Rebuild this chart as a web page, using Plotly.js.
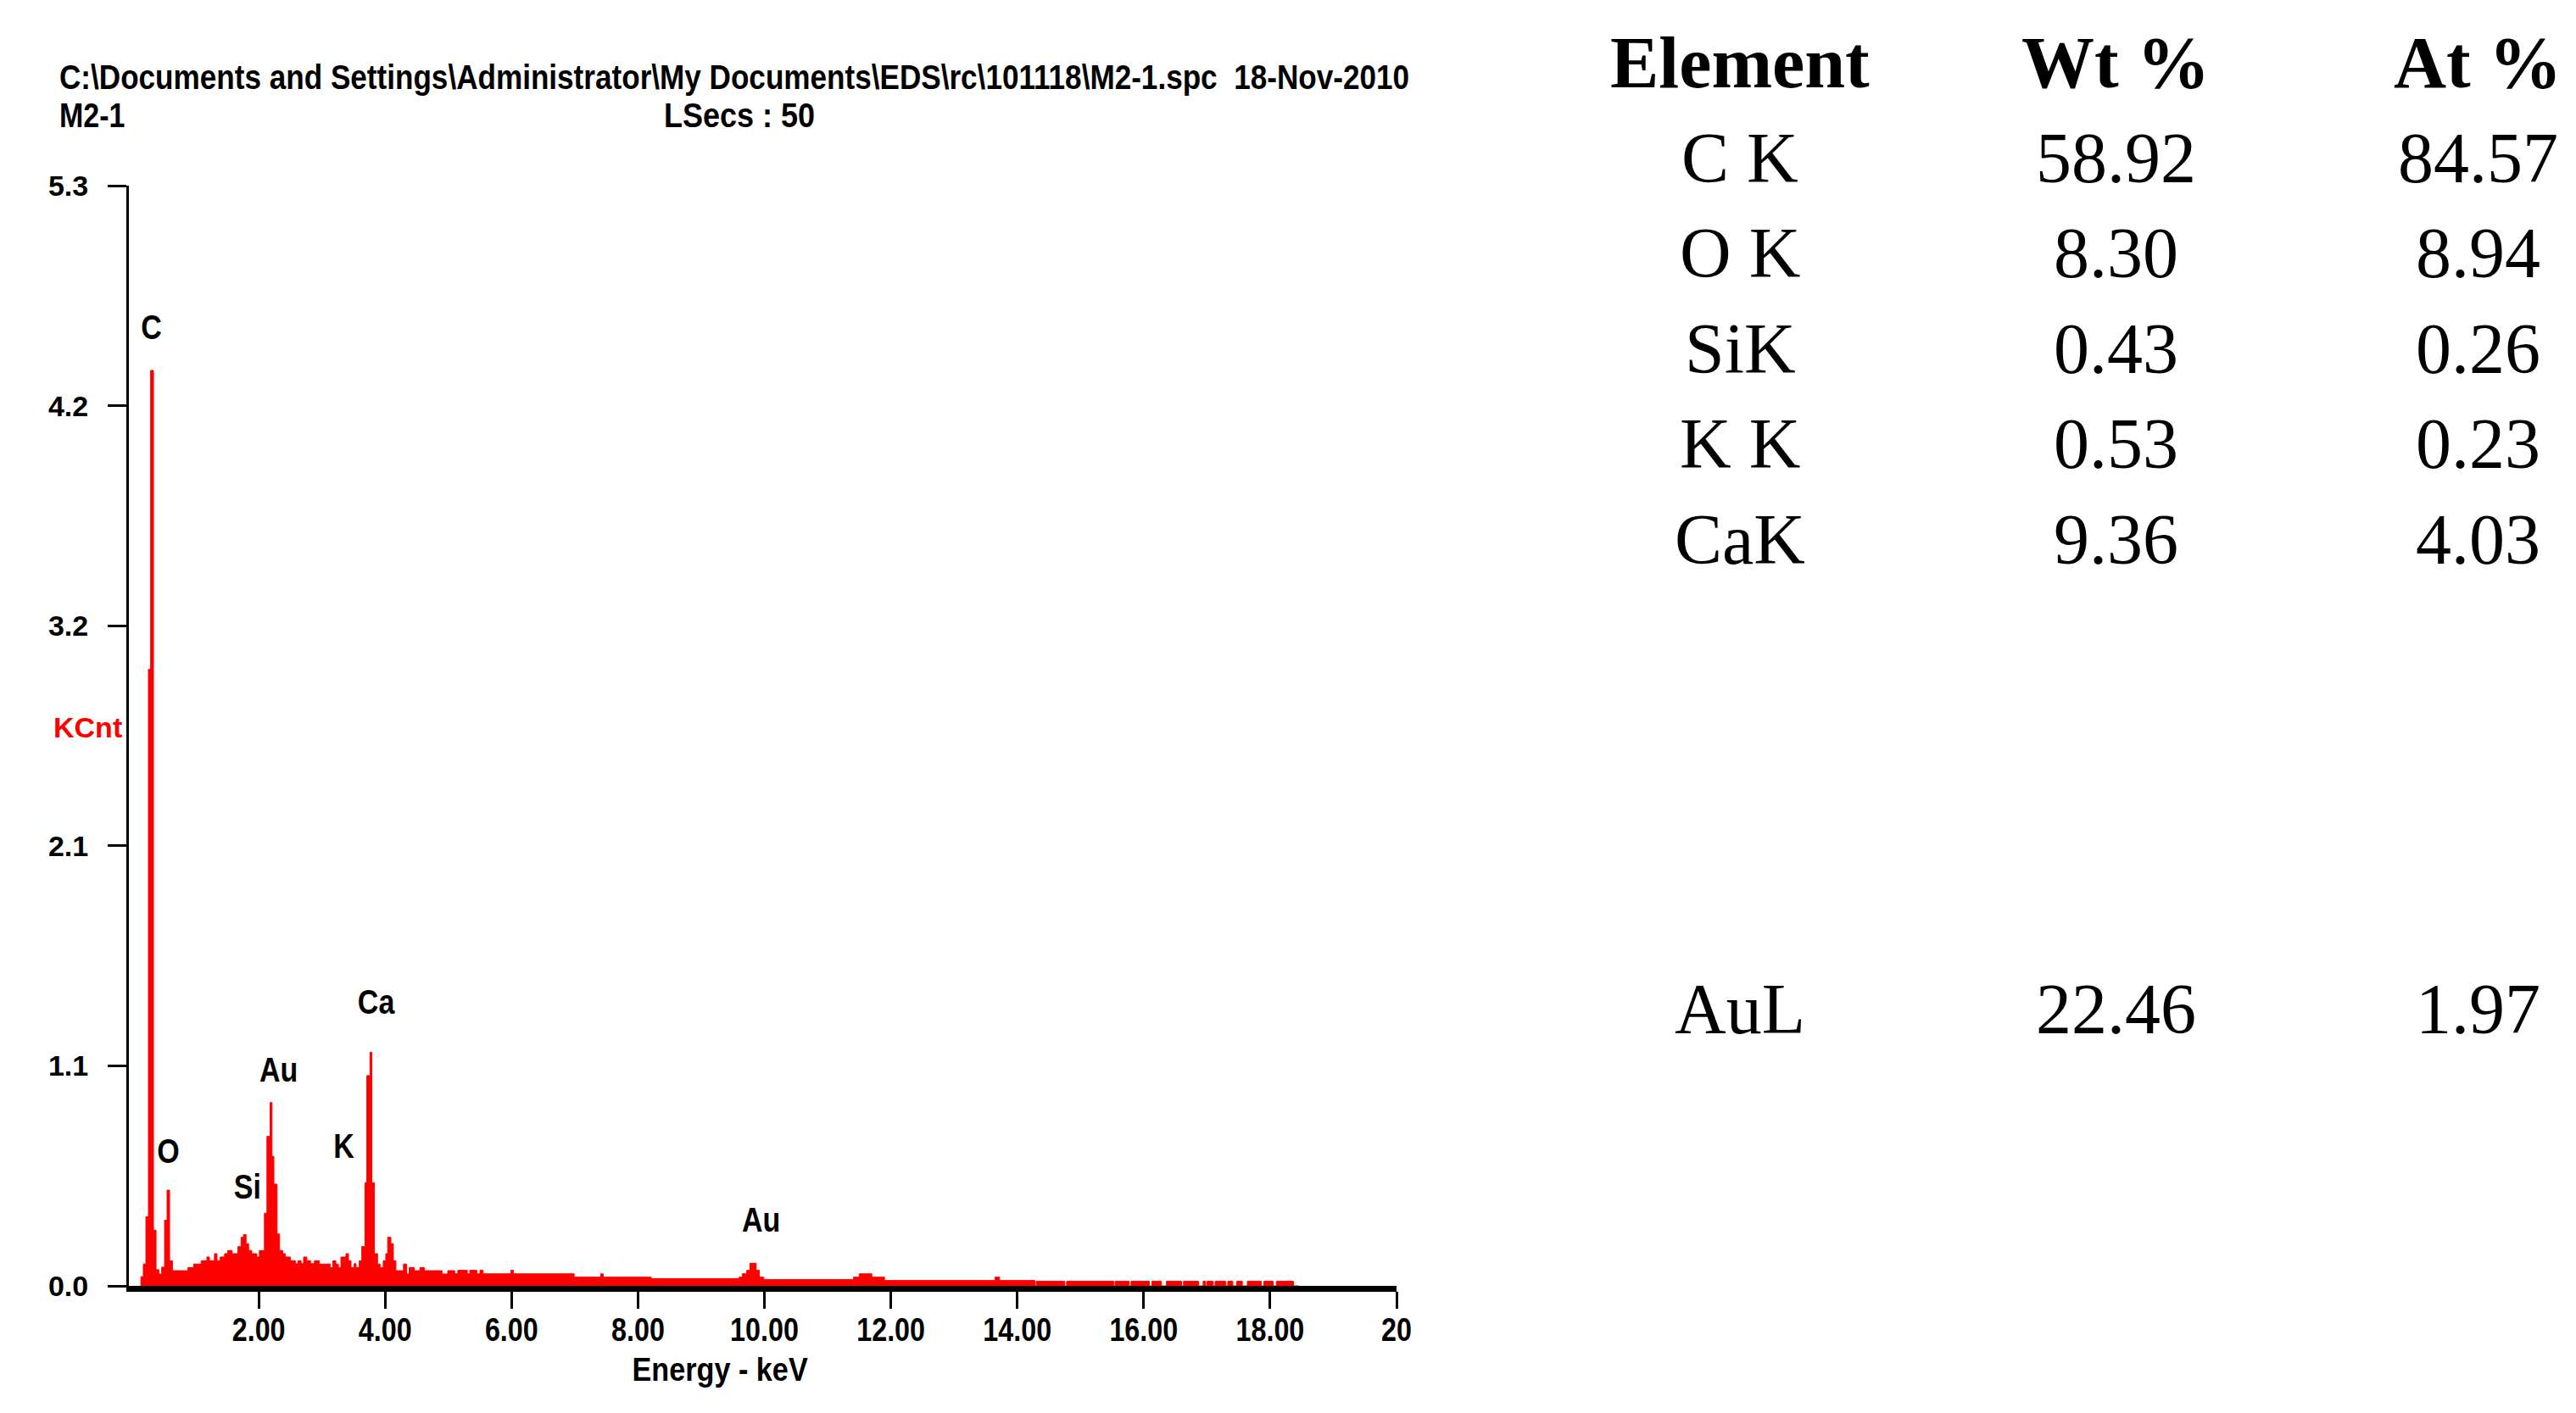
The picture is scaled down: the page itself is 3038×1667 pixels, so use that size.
<!DOCTYPE html>
<html>
<head>
<meta charset="utf-8">
<script src="https://cdn.plot.ly/plotly-3.0.1.min.js"></script>
<style>
  html, body { margin: 0; padding: 0; background: #ffffff; overflow: hidden; }
  #chart { width: 3038px; height: 1667px; }
</style>
</head>
<body>
<div id="chart"></div>
<script>
// ---------------- DATA ----------------
// EDS spectrum: left edge of each step (keV) and counts (KCnt)
const energy = [
  0.13, 0.174, 0.215, 0.255, 0.29, 0.335, 0.376, 0.42, 0.465, 0.51,
  0.55, 0.59, 0.635, 0.88, 0.97, 1.09, 1.18, 1.22, 1.30, 1.34,
  1.39, 1.46, 1.51, 1.58, 1.67, 1.72, 1.76, 1.80, 1.84, 1.89,
  1.97, 2.01, 2.09, 2.13, 2.18, 2.21, 2.24, 2.29, 2.33, 2.38,
  2.42, 2.50, 2.58, 2.62, 2.67, 2.71, 2.76, 2.82, 2.88, 2.96,
  3.13, 3.17, 3.22, 3.26, 3.30, 3.38, 3.42, 3.46, 3.51, 3.54,
  3.59, 3.63, 3.68, 3.71, 3.76, 3.79, 3.83, 3.88, 3.92, 3.97,
  4.01, 4.04, 4.09, 4.13, 4.17, 4.29, 4.34, 4.38, 4.46, 4.55,
  4.62, 4.90, 4.99, 5.10, 5.15, 5.30, 5.34, 5.45, 5.50, 5.55,
  5.99, 6.03, 6.99, 7.41, 7.45, 8.21, 9.60, 9.65, 9.72, 9.77,
  9.87, 9.92, 9.99, 11.41, 11.50, 11.70, 11.90, 13.65, 13.72, 14.28,
  14.30, 14.75, 14.78, 15.53, 15.55, 15.77, 15.80, 16.09, 16.13, 16.28,
  16.36, 16.60, 16.63, 16.87, 16.94, 16.98, 17.00, 17.10, 17.13, 17.30,
  17.33, 17.41, 17.47, 17.56, 17.64, 17.86, 17.90, 18.05, 18.10, 18.37,
  18.45
];
const counts = [
  0.044, 0.105, 0.333, 2.97, 4.41, 0.268, 0.078, 0.057, 0.090, 0.316,
  0.461, 0.121, 0.073, 0.088, 0.105, 0.121, 0.139, 0.121, 0.155, 0.121,
  0.139, 0.155, 0.170, 0.155, 0.189, 0.234, 0.247, 0.203, 0.170, 0.155,
  0.139, 0.170, 0.350, 0.720, 0.883, 0.624, 0.490, 0.250, 0.170, 0.155,
  0.139, 0.121, 0.107, 0.121, 0.107, 0.139, 0.121, 0.107, 0.121, 0.105,
  0.088, 0.121, 0.105, 0.088, 0.139, 0.155, 0.121, 0.088, 0.107, 0.088,
  0.121, 0.189, 0.497, 1.013, 1.125, 0.497, 0.155, 0.105, 0.088, 0.121,
  0.155, 0.234, 0.203, 0.121, 0.073, 0.105, 0.057, 0.088, 0.073, 0.088,
  0.073, 0.057, 0.073, 0.058, 0.075, 0.058, 0.075, 0.058, 0.075, 0.058,
  0.075, 0.058, 0.042, 0.058, 0.042, 0.035, 0.042, 0.058, 0.075, 0.109,
  0.075, 0.042, 0.030, 0.042, 0.058, 0.042, 0.026, 0.042, 0.026, 0.000,
  0.022, 0.000, 0.022, 0.000, 0.022, 0.000, 0.022, 0.000, 0.022, 0.000,
  0.022, 0.000, 0.022, 0.000, 0.022, 0.000, 0.022, 0.000, 0.022, 0.000,
  0.022, 0.000, 0.022, 0.000, 0.022, 0.000, 0.022, 0.000, 0.022, 0.000,
  0.000
];

// Peak labels (element, energy keV, label height KCnt)
const peakNames  = ['C', 'O', 'Si', 'Au', 'K', 'Ca', 'Au'];
const peakEnergy = [0.295, 0.563, 1.82, 2.32, 3.35, 3.86, 9.94];
const peakHeight = [4.62, 0.648, 0.478, 1.04, 0.674, 1.367, 0.318];

// Axis ticks
const xTickVals  = [2, 4, 6, 8, 10, 12, 14, 16, 18, 20];
const xTickText  = ['2.00', '4.00', '6.00', '8.00', '10.00', '12.00', '14.00', '16.00', '18.00', '20'];
const yTickVals  = [0, 1.06, 2.12, 3.18, 4.24, 5.3];
const yTickText  = ['0.0', '1.1', '2.1', '3.2', '4.2', '5.3'];

// Header texts
const headerPath = 'C:\\Documents and Settings\\Administrator\\My Documents\\EDS\\rc\\101118\\M2-1.spc  18-Nov-2010';
const sampleName = 'M2-1';
const liveSecs   = 'LSecs : 50';
const yLabel     = 'KCnt';
const xLabel     = 'Energy - keV';

// Quantification table
const tableHeader = ['Element', 'Wt %', 'At %'];
const elements    = ['C K', 'O K', 'SiK', 'K K', 'CaK', 'AuL'];
const wtPct       = ['58.92', '8.30', '0.43', '0.53', '9.36', '22.46'];
const atPct       = ['84.57', '8.94', '0.26', '0.23', '4.03', '1.97'];

// ---------------- LAYOUT HELPERS ----------------
const W = 3038, H = 1667;
const M = { l: 152, r: 1391, t: 219, b: 150 };
const plotW = W - M.l - M.r, plotH = H - M.t - M.b;
const px = x => (x - M.l) / plotW;          // page pixel -> paper x
const py = y => (H - M.b - y) / plotH;      // page pixel -> paper y

const sans   = "'Liberation Sans', Arial, sans-serif";
const serif  = "'Liberation Serif', 'Times New Roman', serif";

const annotations = [];
const squeeze = [];   // horizontal condensing applied to each annotation's glyphs (1 = none)
function addAnn(a, f) { annotations.push(a); squeeze.push(f); }

// header (condensed bold)
addAnn({ xref: 'paper', yref: 'paper', x: px(68), y: py(91), xanchor: 'left', yanchor: 'middle', align: 'left',
  text: headerPath, showarrow: false, font: { family: sans, size: 40, weight: 'bold', color: '#000' } }, { width: 1592 });
addAnn({ xref: 'paper', yref: 'paper', x: px(68), y: py(136), xanchor: 'left', yanchor: 'middle', align: 'left',
  text: sampleName, showarrow: false, font: { family: sans, size: 40, weight: 'bold', color: '#000' } }, 0.85);
addAnn({ xref: 'paper', yref: 'paper', x: px(781), y: py(136), xanchor: 'left', yanchor: 'middle', align: 'left',
  text: liveSecs, showarrow: false, font: { family: sans, size: 40, weight: 'bold', color: '#000' } }, 0.9);

// axis labels
addAnn({ xref: 'paper', yref: 'paper', x: px(146), y: py(858), xanchor: 'right', yanchor: 'middle', align: 'right',
  text: yLabel, showarrow: false, font: { family: sans, size: 34, weight: 'bold', color: '#ff0000' } }, 1);
addAnn({ xref: 'paper', yref: 'paper', x: px(849), y: py(1616), xanchor: 'center', yanchor: 'middle',
  text: xLabel, showarrow: false, font: { family: sans, size: 38, weight: 'bold', color: '#000' } }, 0.9);

// peak labels
peakNames.forEach((n, i) => {
  addAnn({ xref: 'x', yref: 'y', x: peakEnergy[i], y: peakHeight[i], xanchor: 'center', yanchor: 'middle',
    text: n, showarrow: false, font: { family: sans, size: 40, weight: 'bold', color: '#000' } }, 0.85);
});

// table
const colX = [2052, 2495, 2922];
const headY = 74;
const rowY = [186, 298, 411, 523, 636, 1190];
tableHeader.forEach((t, j) => {
  addAnn({ xref: 'paper', yref: 'paper', x: px(colX[j]), y: py(headY), xanchor: 'center', yanchor: 'middle',
    text: t, showarrow: false, font: { family: serif, size: 86, weight: 'bold', color: '#000' } }, 1);
});
elements.forEach((e, i) => {
  [e, wtPct[i], atPct[i]].forEach((t, j) => {
    addAnn({ xref: 'paper', yref: 'paper', x: px(colX[j]), y: py(rowY[i]), xanchor: 'center', yanchor: 'middle',
      text: t, showarrow: false, font: { family: serif, size: 84, color: '#000' } }, 1);
  });
});

const trace = {
  type: 'scatter', mode: 'lines', x: energy, y: counts,
  line: { shape: 'hv', color: '#ff0000', width: 1 },
  fill: 'tozeroy', fillcolor: '#ff0000', hoverinfo: 'skip'
};

const layout = {
  width: W, height: H, margin: M,
  paper_bgcolor: '#ffffff', plot_bgcolor: '#ffffff', showlegend: false,
  xaxis: {
    range: [-0.054, 20], showgrid: false, zeroline: false,
    showline: true, linewidth: 7, linecolor: '#000',
    ticks: 'outside', ticklen: 20, tickwidth: 3, tickcolor: '#000',
    tickmode: 'array', tickvals: xTickVals, ticktext: xTickText,
    tickfont: { family: sans, size: 38, weight: 'bold', color: '#000' },
    ticklabelstandoff: -8
  },
  yaxis: {
    range: [0, 5.3], showgrid: false, zeroline: false,
    showline: true, linewidth: 3, linecolor: '#000',
    ticks: 'outside', ticklen: 22, tickwidth: 3, tickcolor: '#000',
    tickmode: 'array', tickvals: yTickVals, ticktext: yTickText,
    tickfont: { family: sans, size: 34, weight: 'bold', color: '#000' },
    ticklabelstandoff: 16
  },
  annotations: annotations
};

function condense(textEl, f) {
  const w = textEl.getComputedTextLength();
  if (!w) return;
  const target = (typeof f === 'object') ? f.width : w * f;
  textEl.setAttribute('textLength', target);
  textEl.setAttribute('lengthAdjust', 'spacingAndGlyphs');
}

Plotly.newPlot('chart', [trace], layout, { displayModeBar: false, staticPlot: true }).then(gd => {
  gd.querySelectorAll('g.annotation').forEach(g => {
    const i = +g.getAttribute('data-index');
    const f = squeeze[i];
    if (f === 1 || f === undefined) return;
    const t = g.querySelector('text.annotation-text');
    if (t) condense(t, f);
  });
  gd.querySelectorAll('g.xtick text').forEach(t => condense(t, 0.85));
});
</script>
</body>
</html>
